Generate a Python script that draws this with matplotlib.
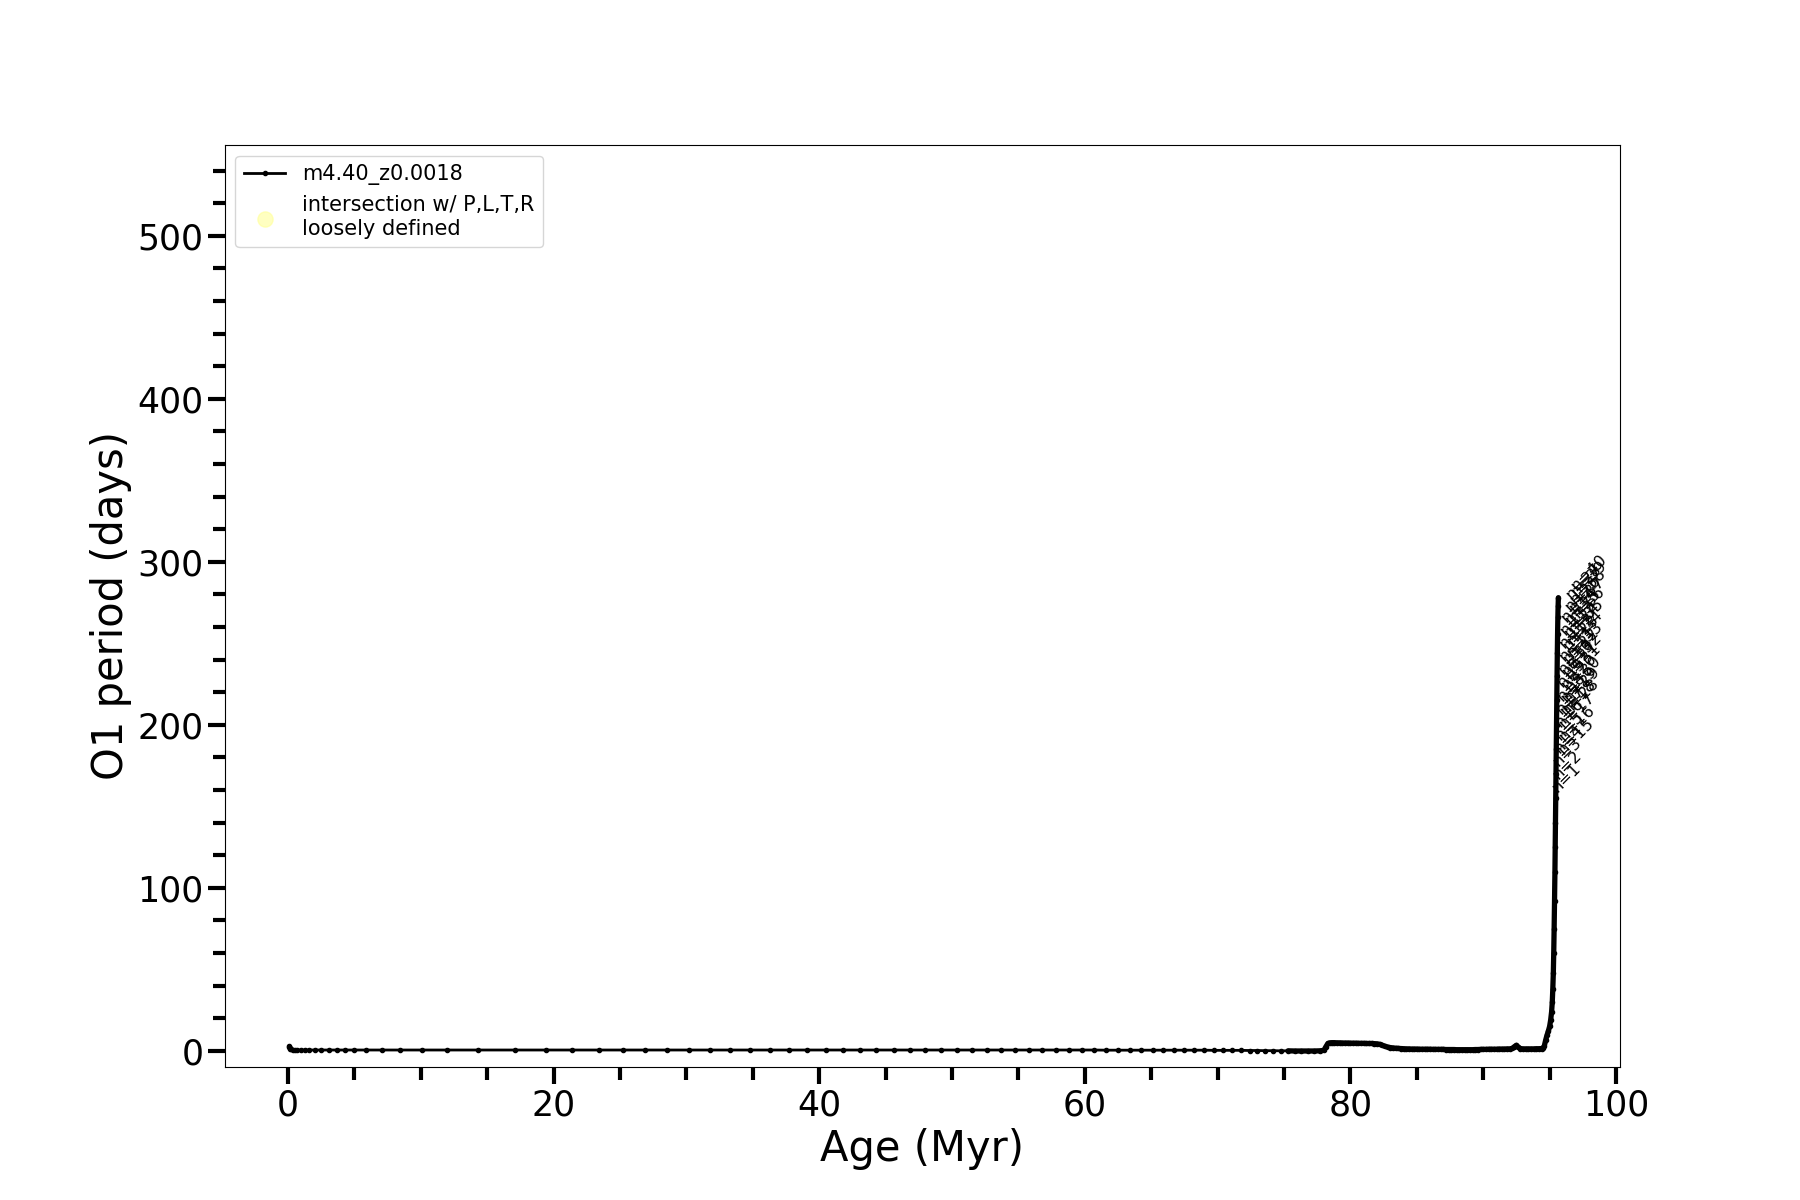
import matplotlib
matplotlib.use("Agg")
import matplotlib.pyplot as plt
from matplotlib.ticker import MultipleLocator

# ---- data ----
track_label = "m4.40_z0.0018"
age_myr = [0.05, 0.08, 0.12, 0.18, 0.25, 0.35, 0.5, 0.7, 0.95, 1.25, 1.6, 2.0,
           2.5, 3.1, 3.7, 4.3, 5.0, 5.9, 7.1, 8.4, 10.1, 12.0, 14.3, 17.1, 19.4,
           21.4, 23.4, 25.2, 26.9, 28.55, 30.2, 31.8, 33.3, 34.8, 36.3, 37.7,
           39.1, 40.5, 41.8, 43.1, 44.3, 45.6, 46.8, 48.0, 49.2, 50.35, 51.5,
           52.6, 53.7, 54.75, 55.8, 56.8, 57.8, 58.8, 59.75, 60.7, 61.6, 62.5,
           63.4, 64.25, 65.1, 65.9, 66.7, 67.5, 68.25, 69.0, 69.7, 70.4, 71.1,
           71.75, 72.4, 73.0, 73.6, 74.2, 74.75, 75.3, 75.8, 76.3, 76.8, 77.25,
           77.7, 78.0, 78.15, 78.3, 78.45, 78.6, 78.8, 79.0, 79.2, 79.4, 79.6,
           79.8, 80.0, 80.2, 80.4, 80.6, 80.8, 81.0, 81.2, 81.4, 81.6, 81.8,
           82.0, 82.2, 82.4, 82.6, 82.8, 83.0, 83.2, 83.4, 83.6, 83.8, 84.0,
           84.2, 84.4, 84.6, 84.8, 85.0, 85.2, 85.4, 85.6, 85.8, 86.0, 86.2,
           86.4, 86.6, 86.8, 87.0, 87.2, 87.4, 87.6, 87.8, 88.0, 88.2, 88.4,
           88.6, 88.8, 89.0, 89.2, 89.4, 89.6, 89.8, 90.0, 90.2, 90.4, 90.6,
           90.8, 91.0, 91.2, 91.4, 91.6, 91.8, 92.0, 92.2, 92.35, 92.5, 92.65,
           92.8, 93.0, 93.2, 93.4, 93.6, 93.8, 94.0, 94.2, 94.4, 94.5, 94.6,
           94.7, 94.8, 94.9, 95.0, 95.08, 95.15, 95.2, 95.24, 95.28, 95.31,
           95.34, 95.37, 95.4, 95.42, 95.44, 95.46, 95.48, 95.5, 95.52, 95.54,
           95.56, 95.58, 95.6, 95.62, 95.64, 95.66]
period_days = [3.0, 2.4, 1.8, 1.3, 1.0, 0.8, 0.6, 0.5, 0.5, 0.5, 0.5, 0.5,
               0.5, 0.5, 0.5, 0.5, 0.5, 0.5, 0.5, 0.5, 0.5, 0.5, 0.5, 0.5, 0.5,
               0.5, 0.5, 0.5, 0.5, 0.5, 0.5, 0.5, 0.5, 0.5, 0.5, 0.5,
               0.5, 0.5, 0.5, 0.5, 0.5, 0.5, 0.5, 0.5, 0.5, 0.5, 0.5,
               0.5, 0.5, 0.5, 0.5, 0.5, 0.5, 0.5, 0.5, 0.5, 0.4, 0.4,
               0.4, 0.4, 0.4, 0.4, 0.4, 0.4, 0.4, 0.4, 0.3, 0.3, 0.3,
               0.3, 0.2, 0.2, 0.1, 0.1, 0.0, 0.0, -0.1, -0.1, -0.1, -0.1,
               0.0, 0.3, 2.5, 4.5, 4.9, 5.0, 5.0, 4.9, 4.9, 4.8, 4.8,
               4.8, 4.7, 4.7, 4.7, 4.6, 4.6, 4.6, 4.5, 4.5, 4.5, 4.4,
               4.3, 4.0, 3.4, 2.8, 2.3, 2.0, 1.8, 1.6, 1.5, 1.4, 1.3,
               1.2, 1.2, 1.1, 1.1, 1.1, 1.0, 1.0, 1.0, 1.0, 1.0, 0.9,
               0.9, 0.9, 0.9, 0.9, 0.8, 0.8, 0.8, 0.8, 0.7, 0.7, 0.7,
               0.7, 0.7, 0.7, 0.7, 0.8, 0.8, 0.9, 0.9, 0.9, 1.0, 1.0,
               1.0, 1.0, 1.1, 1.1, 1.1, 1.2, 1.2, 1.5, 2.6, 3.4, 2.2,
               1.4, 1.2, 1.2, 1.2, 1.2, 1.2, 1.3, 1.3, 1.4, 1.6, 3.0,
               6.5, 9.5, 12.0, 15.0, 19.0, 24.0, 30.0, 38.0, 48.0, 60.0,
               75.0, 92.0, 110.0, 125.0, 140.0, 155.0, 170.0, 185.0, 200.0, 215.0,
               230.0, 244.0, 256.0, 266.0, 273.0, 278.0]

# mode labels drawn next to the upper end of the track
mode_labels = ["n=%d" % k for k in range(1, 41)]
label_ages = [95.75, 95.8, 95.85, 95.9, 95.95, 96.0, 96.05, 96.1, 96.15, 96.2,
              96.25, 96.3, 96.35, 96.4,
              96.2, 96.25, 96.3, 96.35, 96.4, 96.45, 96.5, 96.55, 96.6, 96.65,
              96.7, 96.75, 96.8,
              96.6, 96.65, 96.7, 96.75, 96.8, 96.85, 96.9, 96.95, 97.0, 97.05,
              97.1, 97.15, 97.2]
label_periods = [157, 165, 173, 181, 189, 197, 205, 213, 221, 229,
                 237, 245, 253, 261,
                 180, 188, 196, 204, 212, 220, 228, 236, 244, 252,
                 260, 268, 275,
                 205, 212, 219, 226, 233, 240, 247, 254, 261, 267,
                 272, 277, 281]

intersect_ages = []
intersect_periods = []

# ---- figure ----
fig = plt.figure(figsize=(18, 12), dpi=100)
ax = fig.add_subplot(111)
fig.subplots_adjust(left=0.125, right=0.9, top=0.879, bottom=0.111)

ax.plot(age_myr, period_days, color="black", lw=2.0, marker=".", ms=6,
        label=track_label)
# late, densely sampled part of the track renders as a heavy stroke
late = [i for i, a in enumerate(age_myr) if a >= 75.0]
ax.plot([age_myr[i] for i in late], [period_days[i] for i in late],
        color="black", lw=3.8, solid_capstyle="round", solid_joinstyle="round")
ax.scatter(intersect_ages, intersect_periods, s=120, color="#ffff99", alpha=0.6,
           label="intersection w/ P,L,T,R\nloosely defined")

for txt, xa, ya in zip(mode_labels, label_ages, label_periods):
    ax.text(xa, ya, txt, rotation=45, fontsize=11.5, ha="left", va="bottom",
            rotation_mode="anchor")

ax.set_xlim(-4.75, 100.3)
ax.set_ylim(-9.8, 555.6)
ax.xaxis.set_major_locator(MultipleLocator(20))
ax.xaxis.set_minor_locator(MultipleLocator(5))
ax.yaxis.set_major_locator(MultipleLocator(100))
ax.yaxis.set_minor_locator(MultipleLocator(20))
ax.tick_params(which="major", length=12, width=3, labelsize=25, direction="out")
ax.tick_params(which="minor", length=9, width=3, direction="out")

ax.set_xlabel("Age (Myr)", fontsize=30)
ax.set_ylabel("O1 period (days)", fontsize=30)

ax.legend(loc="upper left", fontsize=15)

fig.savefig("out.png", dpi=100)
